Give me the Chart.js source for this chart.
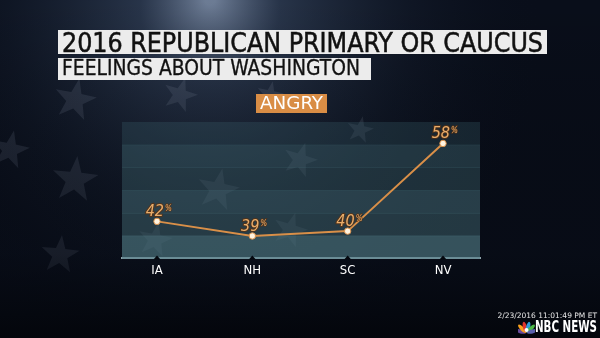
<!DOCTYPE html>
<html>
<head>
<meta charset="utf-8">
<script src="https://cdn.jsdelivr.net/npm/chart.js@4/dist/chart.umd.min.js"></script>
<style>
  html,body{margin:0;padding:0;background:#0b1120;}
  #wrap{position:relative;width:600px;height:338px;overflow:hidden;}
  #c{position:absolute;left:0;top:0;}
  .box{position:absolute;background:#ececec;color:#111;font-family:'DejaVu Sans Condensed','Liberation Sans Narrow',Roboto,sans-serif;white-space:nowrap;line-height:1;}
  .fit{display:inline-block;transform-origin:0 0;white-space:nowrap;}
  #t1{left:58px;top:30px;width:489px;height:24px;}
  #t1 .fit{font-size:27px;position:absolute;left:4px;top:-1px;-webkit-text-stroke:0.5px #111;}
  #t2{left:58px;top:58px;width:313px;height:22px;}
  #t2 .fit{font-size:21px;position:absolute;left:4px;top:0px;-webkit-text-stroke:0.3px #111;}
  #angry{position:absolute;left:256px;top:94px;width:71px;height:19px;background:#d98d45;}
  #angry span{position:absolute;left:4px;top:1px;color:#fff;font-family:'DejaVu Sans Condensed',Roboto,sans-serif;font-size:17px;line-height:1;}
  #stamp{position:absolute;right:3px;top:311px;color:#e8e8e8;font-family:'DejaVu Sans',sans-serif;font-size:7.5px;}
  #nbc{position:absolute;left:535px;top:320px;color:#fff;font-family:'DejaVu Sans Condensed','Liberation Sans Narrow',sans-serif;font-weight:bold;font-size:15px;line-height:1;}
  #peacock{position:absolute;left:518px;top:321px;}
</style>
</head>
<body>
<div id="wrap">
  <canvas id="c" width="600" height="338"></canvas>
  <div class="box" id="t1"><span class="fit" data-w="481">2016 REPUBLICAN PRIMARY OR CAUCUS</span></div>
  <div class="box" id="t2"><span class="fit" data-w="298">FEELINGS ABOUT WASHINGTON</span></div>
  <div id="angry"><span class="fit" data-w="63">ANGRY</span></div>
  <div id="stamp">2/23/2016 11:01:49 PM ET</div>
  <svg id="peacock" width="17" height="13" viewBox="0 0 17 13">
    <g transform="translate(8.5,12)">
      <ellipse cx="0" cy="-6" rx="2" ry="5.5" fill="#6a4c9c" transform="rotate(-75)"/>
      <ellipse cx="0" cy="-6" rx="2" ry="5.5" fill="#f9a01b" transform="rotate(-45)"/>
      <ellipse cx="0" cy="-6" rx="2" ry="5.5" fill="#e0332b" transform="rotate(-15)"/>
      <ellipse cx="0" cy="-6" rx="2" ry="5.5" fill="#2e9bd6" transform="rotate(15)"/>
      <ellipse cx="0" cy="-6" rx="2" ry="5.5" fill="#4cb848" transform="rotate(45)"/>
      <ellipse cx="0" cy="-6" rx="2" ry="5.5" fill="#5b61ad" transform="rotate(75)"/>
      <circle cx="0" cy="-3" r="2" fill="#fff"/>
    </g>
  </svg>
  <div id="nbc"><span class="fit" data-w="62">NBC NEWS</span></div>
</div>
<script>
// ---- data ----
const categories = ['IA', 'NH', 'SC', 'NV'];
const angryValues = [42, 39, 40, 58];
const valueLabels = ['42', '39', '40', '58'];

// fit texts to measured widths
document.querySelectorAll('.fit').forEach(el => {
  const target = parseFloat(el.dataset.w);
  const w = el.getBoundingClientRect().width;
  el.style.transform = 'scaleX(' + (target / w) + ')';
});

function star(ctx, cx, cy, r, rot) {
  ctx.beginPath();
  for (let i = 0; i < 10; i++) {
    const rr = i % 2 === 0 ? r : r * 0.4;
    const a = rot + i * Math.PI / 5 - Math.PI / 2;
    ctx.lineTo(cx + rr * Math.cos(a), cy + rr * Math.sin(a));
  }
  ctx.closePath();
  ctx.fill();
}

const bgPlugin = {
  id: 'bg',
  beforeDraw(chart) {
    const ctx = chart.ctx;
    const W = chart.width, H = chart.height;
    ctx.save();
    ctx.fillStyle = '#090e1a';
    ctx.fillRect(0, 0, W, H);
    let g = ctx.createRadialGradient(210, 0, 5, 210, 40, 330);
    g.addColorStop(0, 'rgba(150,170,200,0.7)');
    g.addColorStop(0.2, 'rgba(70,90,120,0.5)');
    g.addColorStop(0.6, 'rgba(30,42,62,0.3)');
    g.addColorStop(1, 'rgba(10,16,29,0)');
    ctx.fillStyle = g;
    ctx.fillRect(0, 0, W, H);
    // faint flag stars (decoration)
    ctx.fillStyle = 'rgba(140,150,170,0.18)';
    [[75,100,22,0.2],[75,180,24,0.1],[180,95,18,0.3],[218,190,22,0.2],[300,160,18,0.3],[60,255,20,0.1],[10,150,20,0.2],[155,240,18,0.2],[270,95,14,0.2],[360,130,14,0.2],[290,230,18,0.3]].forEach(s => star(ctx, s[0], s[1], s[2], s[3]));
    const vg = ctx.createLinearGradient(0, 0, 0, H);
    vg.addColorStop(0, 'rgba(0,0,0,0)');
    vg.addColorStop(0.75, 'rgba(5,8,15,0.35)');
    vg.addColorStop(1, 'rgba(3,5,10,0.9)');
    ctx.fillStyle = vg;
    ctx.fillRect(0, 0, W, H);
    ctx.restore();
  },
  beforeDatasetsDraw(chart) {
    const {ctx, chartArea: a} = chart;
    const bands = ['rgba(60,100,110,0.28)','rgba(70,112,122,0.40)','rgba(70,110,120,0.36)','rgba(75,118,128,0.48)','rgba(72,114,124,0.44)','rgba(82,126,136,0.62)'];
    const h = (a.bottom - a.top) / bands.length;
    ctx.save();
    bands.forEach((c, i) => {
      ctx.fillStyle = c;
      ctx.fillRect(a.left, a.top + i * h, a.right - a.left, h + 0.5);
    });
    ctx.restore();
  },
  afterDatasetsDraw(chart) {
    const ctx = chart.ctx;
    const xs = chart.scales.x, a = chart.chartArea;
    ctx.save();
    ctx.fillStyle = '#05080f';
    categories.forEach((c, i) => {
      const px = xs.getPixelForValue(i);
      ctx.beginPath();
      ctx.moveTo(px - 3.5, a.bottom + 1);
      ctx.lineTo(px, a.bottom - 3);
      ctx.lineTo(px + 3.5, a.bottom + 1);
      ctx.closePath();
      ctx.fill();
    });
    const meta = chart.getDatasetMeta(0);
    meta.data.forEach((pt, i) => {
      const txt = valueLabels[i];
      ctx.font = 'italic 16px "DejaVu Sans Condensed", sans-serif';
      ctx.textBaseline = 'alphabetic';
      ctx.textAlign = 'right';
      const bx = pt.x + 7, by = pt.y - 5;
      ctx.lineWidth = 2;
      ctx.strokeStyle = 'rgba(90,50,20,0.8)';
      ctx.strokeText(txt, bx, by);
      ctx.fillStyle = '#e9ad6a';
      ctx.fillText(txt, bx, by);
      ctx.textAlign = 'left';
      ctx.font = 'italic 8px "DejaVu Sans Condensed", sans-serif';
      ctx.lineWidth = 1.5;
      ctx.strokeText('%', bx + 1, by - 5);
      ctx.fillText('%', bx + 1, by - 5);
    });
    ctx.restore();
  }
};

new Chart(document.getElementById('c'), {
  type: 'line',
  data: {
    datasets: [{
      data: angryValues.map((v, i) => ({x: i, y: v})),
      borderColor: '#d98f48',
      borderWidth: 2,
      pointRadius: 3.2,
      pointBackgroundColor: '#fff3e0',
      pointBorderColor: '#d98f48',
      pointBorderWidth: 1,
      tension: 0
    }]
  },
  options: {
    responsive: false,
    animation: false,
    devicePixelRatio: 1,
    layout: {padding: {left: 122, right: 120, top: 122, bottom: 56}},
    plugins: {legend: {display: false}, tooltip: {enabled: false}},
    scales: {
      x: {
        type: 'linear',
        min: -0.367,
        max: 3.388,
        afterBuildTicks(scale) { scale.ticks = categories.map((c, i) => ({value: i})); },
        ticks: {
          callback: (v) => categories[v] ?? '',
          color: '#ffffff',
          font: {family: '"DejaVu Sans Condensed", sans-serif', size: 13},
          padding: 4,
          maxRotation: 0,
          autoSkip: false
        },
        grid: {display: false, drawTicks: false},
        border: {display: true, color: '#8ea3ab', width: 2}
      },
      y: {
        display: false,
        min: 34.4,
        max: 62.4
      }
    }
  },
  plugins: [bgPlugin]
});
</script>
</body>
</html>
